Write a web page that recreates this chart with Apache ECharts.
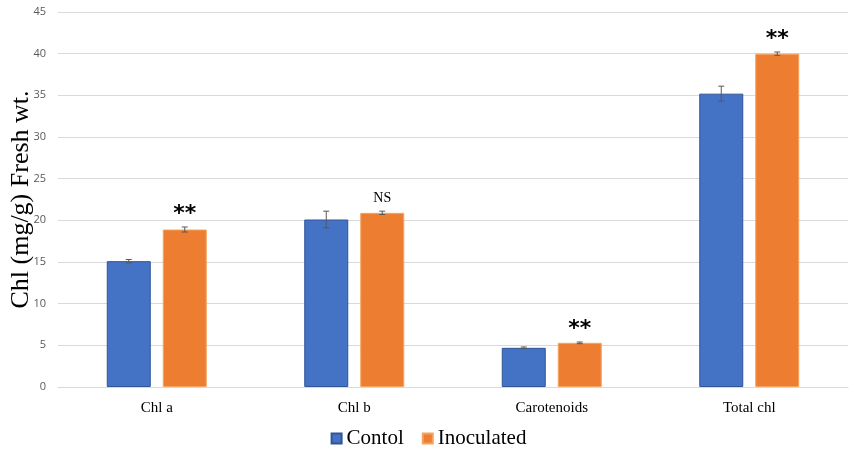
<!DOCTYPE html>
<html>
<head>
<meta charset="utf-8">
<script src="https://cdn.jsdelivr.net/npm/echarts@6/dist/echarts.min.js"></script>
<style>
  html, body { margin: 0; padding: 0; background: #fff; }
  #chart { width: 857px; height: 462px; }
</style>
</head>
<body>
<div id="chart"></div>
<script>
var categories = ['Chl a', 'Chl b', 'Carotenoids', 'Total chl'];
var controlValues = [15.1, 20.1, 4.7, 35.2];
var controlErrors = [0.2, 1.0, 0.1, 0.9];
var inocValues = [18.9, 20.9, 5.3, 40.0];
var inocErrors = [0.3, 0.2, 0.1, 0.2];
var marks = ['**', 'NS', '**', '**'];

var barW = 44;
var barGapPx = 12;
var half = (barW + barGapPx) / 2;

var chart = echarts.init(document.getElementById('chart'));

function errorSeries(values, errors, offset, withMarks) {
  return {
    type: 'custom',
    z: 10,
    data: values.map(function (v, i) { return [i, v, errors[i]]; }),
    renderItem: function (params, api) {
      var i = api.value(0), v = api.value(1), e = api.value(2);
      var top = api.coord([i, v + e]);
      var bot = api.coord([i, v - e]);
      var x = top[0] + offset;
      var cap = 3;
      var st = { stroke: '#595959', lineWidth: 1 };
      var children = [
        { type: 'line', shape: { x1: x, y1: top[1], x2: x, y2: bot[1] }, style: st },
        { type: 'line', shape: { x1: x - cap, y1: top[1], x2: x + cap, y2: top[1] }, style: st },
        { type: 'line', shape: { x1: x - cap, y1: bot[1], x2: x + cap, y2: bot[1] }, style: st }
      ];
      if (withMarks) {
        var m = marks[params.dataIndex];
        var isNS = m === 'NS';
        children.push({
          type: 'text',
          style: {
            x: x,
            y: top[1] - (isNS ? 6 : 2),
            text: m,
            align: 'center',
            verticalAlign: 'bottom',
            fill: '#000',
            font: isNS ? '14px "Liberation Serif", serif' : 'bold 22px "DejaVu Sans", sans-serif'
          }
        });
      }
      return { type: 'group', children: children };
    }
  };
}

var option = {
  animation: false,
  grid: { left: 58, right: 9, top: 12, bottom: 75, outerBoundsMode: 'none' },
  legend: {
    data: ['Contol', 'Inoculated'],
    bottom: 8,
    left: 'center',
    icon: 'rect',
    itemWidth: 10,
    itemHeight: 10,
    itemGap: 18,
    textStyle: { fontFamily: '"Liberation Serif", serif', fontSize: 21, color: '#000' }
  },
  xAxis: {
    type: 'category',
    data: categories,
    axisLine: { lineStyle: { color: '#d9d9d9' } },
    axisTick: { show: false },
    axisLabel: { fontFamily: '"Liberation Serif", serif', fontSize: 15, color: '#000', margin: 14 }
  },
  yAxis: {
    type: 'value',
    min: 0,
    max: 45,
    interval: 5,
    name: 'Chl (mg/g) Fresh wt.',
    nameLocation: 'middle',
    nameGap: 24,
    nameMoveOverlap: false,
    nameTextStyle: { fontFamily: '"Liberation Serif", serif', fontSize: 26, color: '#000' },
    axisLine: { show: false },
    axisTick: { show: false },
    axisLabel: { fontFamily: '"Open Sans", sans-serif', fontSize: 11, color: '#595959', margin: 12 },
    splitLine: { lineStyle: { color: '#d9d9d9' } }
  },
  series: [
    {
      name: 'Contol',
      type: 'bar',
      data: controlValues,
      barWidth: barW,
      barGap: (barGapPx / barW * 100) + '%',
      itemStyle: { color: '#4472c4', borderColor: '#2f5597', borderWidth: 1 }
    },
    {
      name: 'Inoculated',
      type: 'bar',
      data: inocValues,
      barWidth: barW,
      itemStyle: { color: '#ed7d31', borderColor: '#f4a460', borderWidth: 1 }
    },
    errorSeries(controlValues, controlErrors, -half, false),
    errorSeries(inocValues, inocErrors, half, true)
  ]
};

chart.setOption(option);
</script>
</body>
</html>
